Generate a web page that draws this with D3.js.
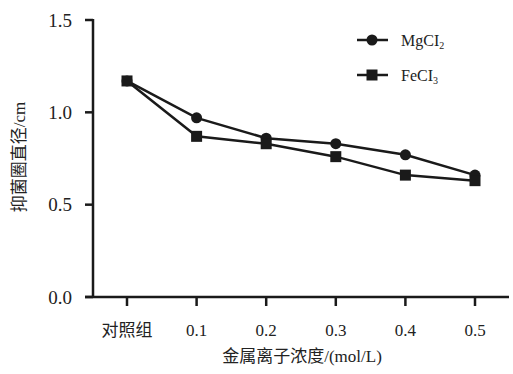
<!DOCTYPE html>
<html>
<head>
<meta charset="utf-8">
<script src="https://cdn.jsdelivr.net/npm/d3@7"></script>
<style>
  body { margin: 0; background: #fff; }
  text { font-family: "Liberation Serif", "Noto Sans CJK SC", serif; fill: #222; }
</style>
</head>
<body>
<svg id="chart" width="513" height="374"></svg>
<script>
const categories = ["对照组", "0.1", "0.2", "0.3", "0.4", "0.5"];
const mgValues = [1.17, 0.97, 0.86, 0.83, 0.77, 0.66];
const feValues = [1.17, 0.87, 0.83, 0.76, 0.66, 0.63];
const yTicks = [0, 0.5, 1.0, 1.5];

const svg = d3.select("#chart");
const ink = "#1a1a1a";

// x: 对照组 at 127, 0.5 at 475
const x = d3.scalePoint().domain(categories).range([127, 475]);
const y = d3.scaleLinear().domain([0, 1.5]).range([297, 20]);

// y axis
svg.append("line").attr("x1", 93).attr("x2", 93).attr("y1", 19).attr("y2", 297)
  .attr("stroke", ink).attr("stroke-width", 2.5);
svg.selectAll(".ytick").data(yTicks).enter().append("line")
  .attr("x1", 85).attr("x2", 93)
  .attr("y1", d => y(d)).attr("y2", d => y(d))
  .attr("stroke", ink).attr("stroke-width", 2.5);
svg.selectAll(".ylab").data(yTicks).enter().append("text")
  .attr("x", 72).attr("y", d => y(d)).attr("dy", "0.35em")
  .attr("text-anchor", "end").attr("font-size", 19)
  .text(d => d3.format(".1f")(d));

// x axis
svg.append("line").attr("x1", 85).attr("x2", 509).attr("y1", 297).attr("y2", 297)
  .attr("stroke", ink).attr("stroke-width", 2.5);
svg.selectAll(".xtick").data(categories).enter().append("line")
  .attr("x1", d => x(d)).attr("x2", d => x(d))
  .attr("y1", 297).attr("y2", 306)
  .attr("stroke", ink).attr("stroke-width", 2.5);
svg.selectAll(".xlab").data(categories).enter().append("text")
  .attr("x", d => x(d)).attr("y", 330).attr("dy", "0.35em")
  .attr("text-anchor", "middle").attr("font-size", 17)
  .text(d => d);

// axis titles
svg.append("text").attr("x", 302).attr("y", 356).attr("dy", "0.35em")
  .attr("text-anchor", "middle").attr("font-size", 17)
  .text("金属离子浓度/(mol/L)");
svg.append("text")
  .attr("transform", "translate(19,157) rotate(-90)")
  .attr("text-anchor", "middle").attr("dy", "0.35em").attr("font-size", 17)
  .text("抑菌圈直径/cm");

const line = d3.line().x((d, i) => x(categories[i])).y(d => y(d));

function drawSeries(values, shape) {
  svg.append("path").datum(values).attr("d", line)
    .attr("fill", "none").attr("stroke", ink).attr("stroke-width", 2.5);
  const g = svg.selectAll(null).data(values).enter().append("g")
    .attr("transform", (d, i) => `translate(${x(categories[i])},${y(d)})`);
  if (shape === "circle") g.append("circle").attr("r", 5.5).attr("fill", ink);
  else g.append("rect").attr("x", -5.5).attr("y", -5.5).attr("width", 11).attr("height", 11).attr("fill", ink);
}
drawSeries(mgValues, "circle");
drawSeries(feValues, "square");

// legend
const legend = [
  { name: "MgCI", sub: "2", shape: "circle", y: 40 },
  { name: "FeCI", sub: "3", shape: "square", y: 75 }
];
legend.forEach(l => {
  svg.append("line").attr("x1", 357).attr("x2", 388).attr("y1", l.y).attr("y2", l.y)
    .attr("stroke", ink).attr("stroke-width", 2.5);
  if (l.shape === "circle") svg.append("circle").attr("cx", 372).attr("cy", l.y).attr("r", 5.5).attr("fill", ink);
  else svg.append("rect").attr("x", 366.5).attr("y", l.y - 5.5).attr("width", 11).attr("height", 11).attr("fill", ink);
  const t = svg.append("text").attr("x", 401).attr("y", l.y).attr("dy", "0.35em").attr("font-size", 16);
  t.append("tspan").text(l.name);
  t.append("tspan").attr("font-size", 10).attr("dy", "0.35em").text(l.sub);
});
</script>
</body>
</html>
